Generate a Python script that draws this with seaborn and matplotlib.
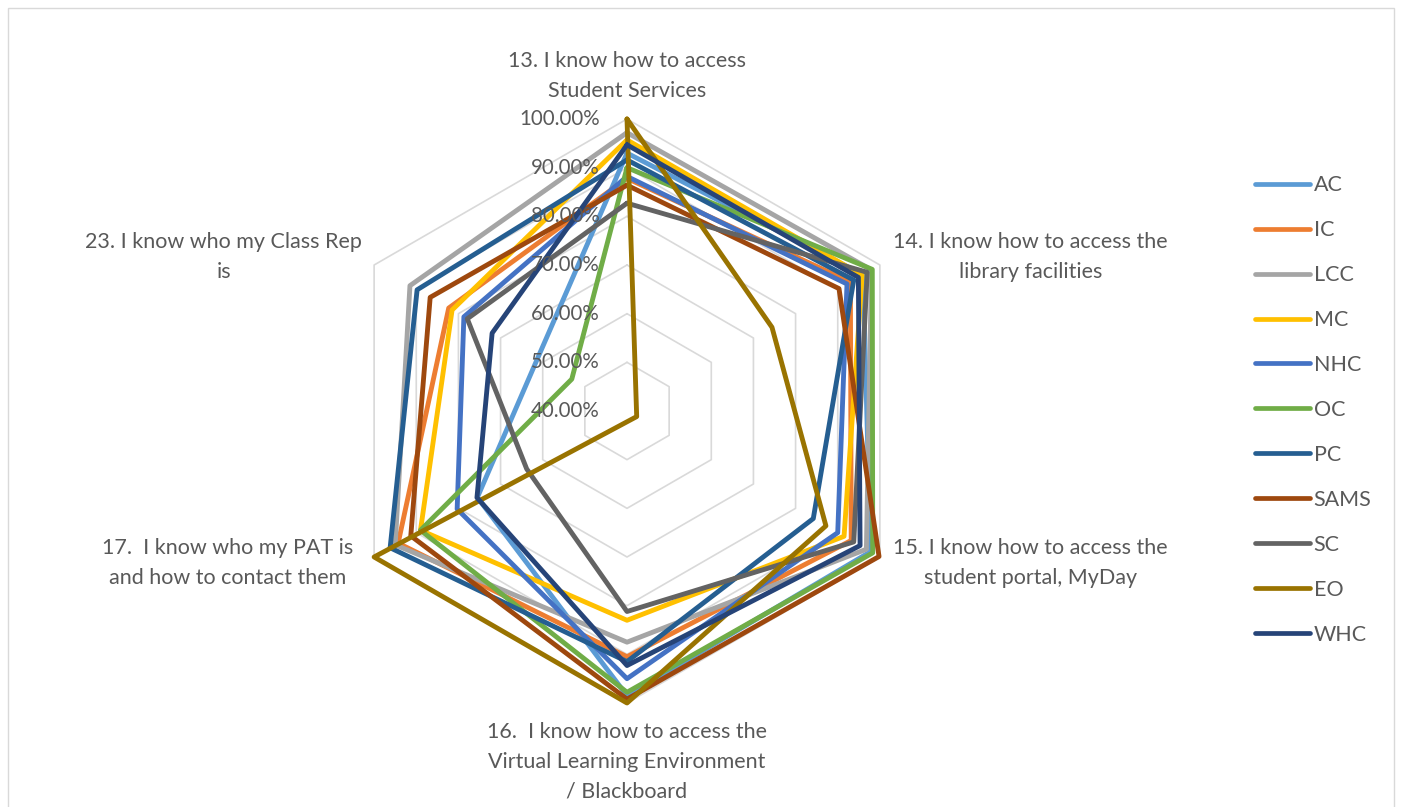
import numpy as np
import pandas as pd
import matplotlib
matplotlib.use("Agg")
import matplotlib.pyplot as plt
from matplotlib.patches import Rectangle
from matplotlib.lines import Line2D
import seaborn as sns

# ---------------- data ----------------
categories = [
    "13. I know how to access\nStudent Services",
    "14. I know how to access the\nlibrary facilities",
    "15. I know how to access the\nstudent portal, MyDay",
    "16.  I know how to access the\nVirtual Learning Environment\n/ Blackboard",
    "17.  I know who my PAT is\nand how to contact them",
    "23. I know who my Class Rep\nis",
]
series_names = ["AC", "IC", "LCC", "MC", "NHC", "OC", "PC", "SAMS", "SC", "EO", "WHC"]
AC = [93.0, 96.0, 97.8, 98.5, 75.5, 61.3]
IC = [87.8, 93.0, 93.2, 90.5, 94.3, 82.3]
LCC = [97.2, 98.0, 96.8, 87.5, 95.0, 91.5]
MC = [95.7, 95.8, 91.5, 83.0, 89.0, 81.5]
NHC = [88.2, 92.2, 90.0, 95.0, 80.3, 78.7]
OC = [90.0, 98.2, 98.3, 97.8, 89.0, 53.1]
PC = [91.6, 93.8, 84.2, 91.5, 96.2, 89.8]
SAMS = [86.4, 90.3, 99.8, 99.2, 91.3, 86.7]
SC = [82.7, 97.0, 93.8, 81.2, 63.8, 77.9]
EO = [100.0, 74.4, 87.2, 100.0, 100.0, 37.7]
WHC = [94.7, 94.9, 95.3, 92.3, 75.6, 72.0]
series_values = [AC, IC, LCC, MC, NHC, OC, PC, SAMS, SC, EO, WHC]
colors = ["#5B9BD5", "#ED7D31", "#A5A5A5", "#FFC000", "#4472C4", "#70AD47",
          "#255E91", "#9E480E", "#636363", "#997300", "#264478"]
tick_values = [40, 50, 60, 70, 80, 90, 100]
tick_labels = ["40.00%", "50.00%", "60.00%", "70.00%", "80.00%", "90.00%", "100.00%"]
rmin, rmax = 40.0, 100.0

# ---------------- style ----------------
sns.set_theme(style="white")
plt.rcParams["font.family"] = ["Lato", "DejaVu Sans"]
txt_color = "#595959"
fs = 15.5
fs_tick = 14.8

W, H = 1402, 807
fig = plt.figure(figsize=(W / 100, H / 100), dpi=100)
R = 292.0           # pixels per unit radius
cx, cy = 627.0, 411.0
ax = fig.add_axes([0, 0, 1, 1])

n = len(categories)
theta = np.deg2rad(90 - 360.0 / n * np.arange(n))


def proj(vals):
    rad = (np.asarray(vals, dtype=float) - rmin) / (rmax - rmin)
    return rad * np.cos(theta), rad * np.sin(theta)


# grid hexagons
for tv in tick_values[1:]:
    gx, gy = proj([tv] * n)
    ax.plot(np.append(gx, gx[0]), np.append(gy, gy[0]), color="#D9D9D9", lw=1.2, zorder=1)

# series
rows = []
for name, vals in zip(series_names, series_values):
    x, y = proj(vals)
    x = np.append(x, x[0]); y = np.append(y, y[0])
    for k in range(len(x)):
        rows.append({"series": name, "x": x[k], "y": y[k], "order": k})
df = pd.DataFrame(rows)
for i, (name, col) in enumerate(zip(series_names, colors)):
    sub = df[df.series == name]
    sns.lineplot(data=sub, x="x", y="y", sort=False, estimator=None, color=col,
                 lw=3.5, ax=ax, zorder=3 + i, legend=False)
ax.set_xlim(-cx / R, (W - cx) / R)
ax.set_ylim(-(H - cy) / R, cy / R)
ax.axis("off")

# tick labels
for tv, tl in zip(tick_values, tick_labels):
    rr = (tv - rmin) / (rmax - rmin)
    ax.annotate(tl, xy=(0, rr), xytext=(-27 * 0.72, 0), textcoords="offset points",
                ha="right", va="center", fontsize=fs_tick, color=txt_color, zorder=20)

# category labels
lab_x, lab_y = proj([rmax] * n)
offsets = [(0, 18, "center", "bottom"), (13, 8, "left", "center"),
           (13, -6, "left", "center"), (0, -19, "center", "top"),
           (-21, -6, "right", "center"), (-12, 8, "right", "center")]
for k, cat in enumerate(categories):
    dx, dy, ha, va = offsets[k]
    ax.annotate(cat, xy=(lab_x[k], lab_y[k]), xytext=(dx * 0.72, dy * 0.72),
                textcoords="offset points", ha=ha, va=va, multialignment="center",
                fontsize=fs, color=txt_color, linespacing=1.62)

# legend
handles = [Line2D([0], [0], color=c, lw=3.4, solid_capstyle="round") for c in colors]
fig.legend(handles, series_names, loc="center left", bbox_to_anchor=(1255 / W, 1 - 410 / H),
           frameon=False, fontsize=fs, labelcolor=txt_color, handlelength=2.55,
           handletextpad=0.18, labelspacing=1.16, borderpad=0, borderaxespad=0)

# chart border
fig.add_artist(Rectangle((8 / W, -0.01), (1394 - 8) / W, 1 - 8 / H + 0.01,
                         transform=fig.transFigure, fill=False, ec="#D9D9D9", lw=1.0))

fig.savefig("out.png", dpi=100, facecolor="white")
